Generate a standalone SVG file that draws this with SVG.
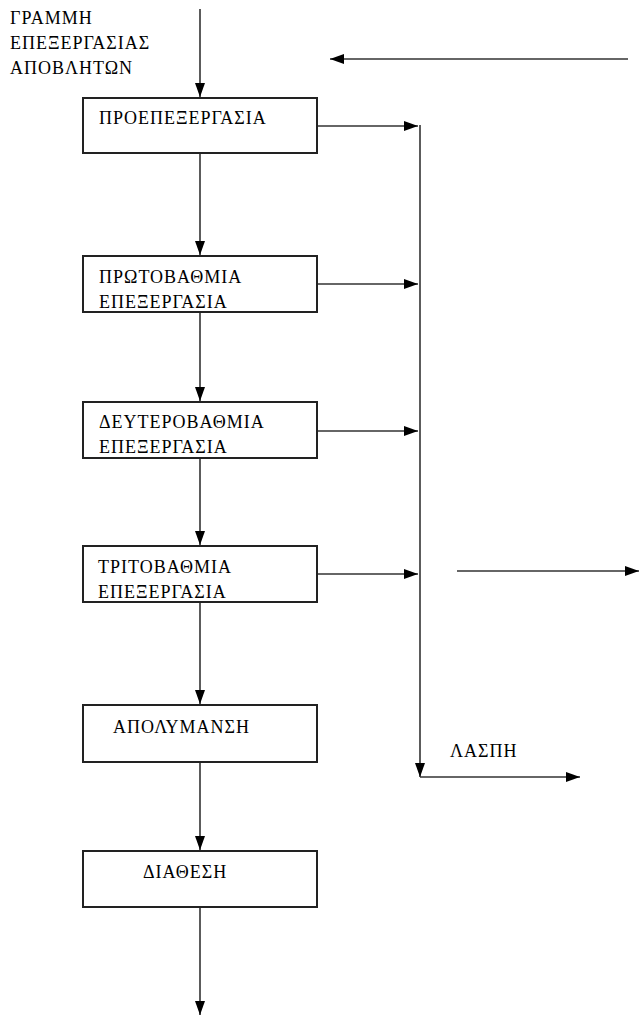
<svg xmlns="http://www.w3.org/2000/svg" width="639" height="1021" viewBox="0 0 639 1021">
<style>
.box{fill:#fff;stroke:#222;stroke-width:2}
.ln{fill:none;stroke:#333;stroke-width:1.6}
.t{font-family:'Liberation Serif','DejaVu Serif',serif;font-size:18px;letter-spacing:1px;fill:#000}
</style>
<defs>
<marker id="ah" markerWidth="14" markerHeight="10" refX="14" refY="5" orient="auto" markerUnits="userSpaceOnUse">
<path d="M0,0 L14,5 L0,10 Z" fill="#000"/>
</marker>
</defs>
<rect width="639" height="1021" fill="#fff"/>
<g id="title" class="t">
<text x="10" y="24">ΓΡΑΜΜΗ</text>
<text x="10" y="49">ΕΠΕΞΕΡΓΑΣΙΑΣ</text>
<text x="10" y="74">ΑΠΟΒΛΗΤΩΝ</text>
</g>
<g id="connectors">
<line class="ln" x1="200" y1="9" x2="200" y2="97" marker-end="url(#ah)"/>
<line class="ln" x1="628" y1="59" x2="330" y2="59" marker-end="url(#ah)"/>
<line class="ln" x1="200" y1="153" x2="200" y2="255" marker-end="url(#ah)"/>
<line class="ln" x1="200" y1="312" x2="200" y2="401" marker-end="url(#ah)"/>
<line class="ln" x1="200" y1="458" x2="200" y2="545" marker-end="url(#ah)"/>
<line class="ln" x1="200" y1="602" x2="200" y2="704" marker-end="url(#ah)"/>
<line class="ln" x1="200" y1="762" x2="200" y2="850" marker-end="url(#ah)"/>
<line class="ln" x1="200" y1="907" x2="200" y2="1015" marker-end="url(#ah)"/>
<line class="ln" x1="317" y1="126" x2="418" y2="126" marker-end="url(#ah)"/>
<line class="ln" x1="317" y1="284" x2="418" y2="284" marker-end="url(#ah)"/>
<line class="ln" x1="317" y1="431" x2="418" y2="431" marker-end="url(#ah)"/>
<line class="ln" x1="317" y1="574" x2="418" y2="574" marker-end="url(#ah)"/>
<line class="ln" x1="420" y1="125" x2="420" y2="777" marker-end="url(#ah)"/>
<line class="ln" x1="420" y1="777" x2="580" y2="777" marker-end="url(#ah)"/>
<line class="ln" x1="457" y1="571" x2="639" y2="571" marker-end="url(#ah)"/>
</g>
<g id="n1" class="t"><rect class="box" x="83" y="98" width="234" height="55"/><text x="99" y="124">ΠΡΟΕΠΕΞΕΡΓΑΣΙΑ</text></g>
<g id="n2" class="t"><rect class="box" x="83" y="256" width="234" height="56"/><text x="99" y="283">ΠΡΩΤΟΒΑΘΜΙΑ</text><text x="99" y="308">ΕΠΕΞΕΡΓΑΣΙΑ</text></g>
<g id="n3" class="t"><rect class="box" x="83" y="402" width="234" height="56"/><text x="99" y="428">ΔΕΥΤΕΡΟΒΑΘΜΙΑ</text><text x="99" y="453">ΕΠΕΞΕΡΓΑΣΙΑ</text></g>
<g id="n4" class="t"><rect class="box" x="83" y="546" width="234" height="56"/><text x="98" y="573">ΤΡΙΤΟΒΑΘΜΙΑ</text><text x="98" y="598">ΕΠΕΞΕΡΓΑΣΙΑ</text></g>
<g id="n5" class="t"><rect class="box" x="83" y="705" width="234" height="57"/><text x="113" y="733">ΑΠΟΛΥΜΑΝΣΗ</text></g>
<g id="n6" class="t"><rect class="box" x="83" y="851" width="234" height="56"/><text x="143" y="878">ΔΙΑΘΕΣΗ</text></g>
<g id="label" class="t"><text x="450" y="757">ΛΑΣΠΗ</text></g>
</svg>
